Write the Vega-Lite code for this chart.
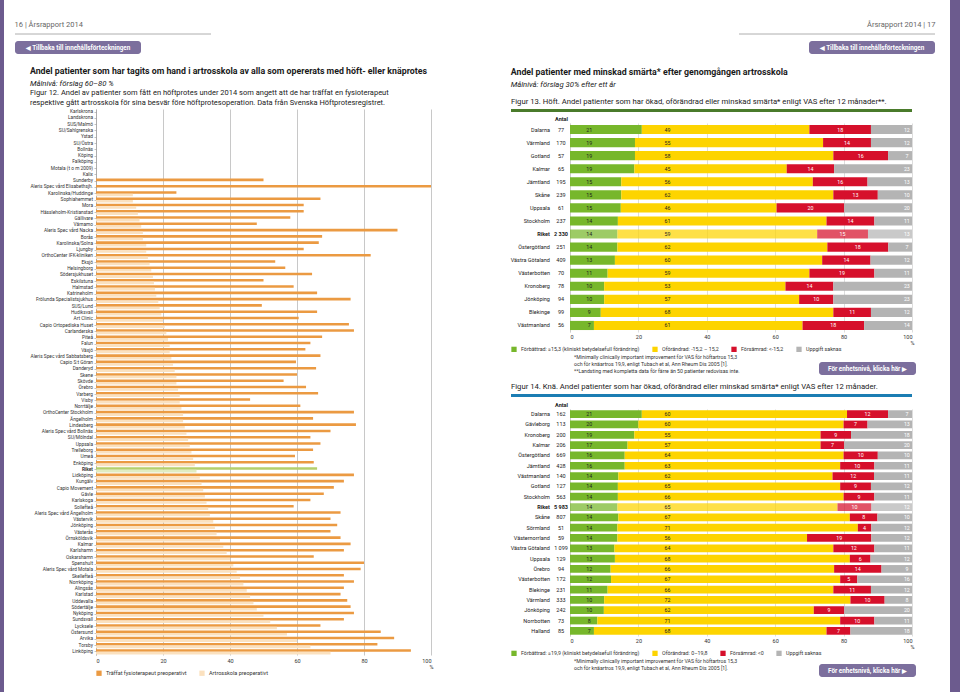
{
"$schema": "https://vega.github.io/schema/vega-lite/v6.json",
"padding": 0,
"background": "white",
"bounds": "full",
"spacing": 0,
"config": {
 "font": "Roboto",
 "view": {"stroke": null},
 "axis": {"labelFont": "Roboto", "titleFont": "Roboto", "labelColor": "#333", "titleColor": "#333", "domainColor": "#999", "tickColor": "#999", "gridColor": "#b8b8b8", "gridWidth": 0.6, "domainWidth": 0.6, "tickWidth": 0.6},
 "legend": {"labelFont": "Roboto", "labelColor": "#333"},
 "title": {"font": "Roboto", "subtitleFont": "Roboto", "color": "#1a1a1a", "subtitleColor": "#1a1a1a"},
 "text": {"font": "Roboto"}
},
"datasets": {
 "left": [
  {"sjukhus": "Karlskrona", "fysio": 0, "skola": 0},
  {"sjukhus": "Landskrona", "fysio": 0, "skola": 0},
  {"sjukhus": "SUS/Malmö", "fysio": 0, "skola": 0},
  {"sjukhus": "SU/Sahlgrenska", "fysio": 0, "skola": 0},
  {"sjukhus": "Ystad", "fysio": 0, "skola": 0},
  {"sjukhus": "SU/Östra", "fysio": 0, "skola": 0},
  {"sjukhus": "Bollnäs", "fysio": 0, "skola": 0},
  {"sjukhus": "Köping", "fysio": 0, "skola": 0},
  {"sjukhus": "Falköping", "fysio": 0, "skola": 0},
  {"sjukhus": "Motala (t o m 2009)", "fysio": 0, "skola": 0},
  {"sjukhus": "Kalix", "fysio": 0, "skola": 0},
  {"sjukhus": "Sunderby", "fysio": 50, "skola": 0},
  {"sjukhus": "Aleris Spec vård Elisabethsjh.", "fysio": 100, "skola": 0},
  {"sjukhus": "Karolinska/Huddinge", "fysio": 24, "skola": 11},
  {"sjukhus": "Sophiahemmet", "fysio": 67, "skola": 11},
  {"sjukhus": "Mora", "fysio": 62, "skola": 12},
  {"sjukhus": "Hässleholm-Kristianstad", "fysio": 62, "skola": 12.5},
  {"sjukhus": "Gällivare", "fysio": 58, "skola": 13},
  {"sjukhus": "Värnamo", "fysio": 48, "skola": 13.5},
  {"sjukhus": "Aleris Spec vård Nacka", "fysio": 90, "skola": 14},
  {"sjukhus": "Borås", "fysio": 67.5, "skola": 14},
  {"sjukhus": "Karolinska/Solna", "fysio": 66.5, "skola": 15},
  {"sjukhus": "Ljungby", "fysio": 62, "skola": 15},
  {"sjukhus": "OrthoCenter IFK-kliniken", "fysio": 82, "skola": 15.5},
  {"sjukhus": "Eksjö", "fysio": 53.5, "skola": 16},
  {"sjukhus": "Helsingborg", "fysio": 56.5, "skola": 16.5},
  {"sjukhus": "Södersjukhuset", "fysio": 64.5, "skola": 17},
  {"sjukhus": "Eskilstuna", "fysio": 50, "skola": 17.3},
  {"sjukhus": "Halmstad", "fysio": 59, "skola": 17.6},
  {"sjukhus": "Katrineholm", "fysio": 66, "skola": 18},
  {"sjukhus": "Frölunda Specialistsjukhus", "fysio": 76, "skola": 18.6},
  {"sjukhus": "SUS/Lund", "fysio": 49.5, "skola": 19},
  {"sjukhus": "Hudiksvall", "fysio": 66, "skola": 19.5},
  {"sjukhus": "Art Clinic", "fysio": 60.5, "skola": 20},
  {"sjukhus": "Capio Ortopediska Huset", "fysio": 75.5, "skola": 20.5},
  {"sjukhus": "Carlanderska", "fysio": 77, "skola": 21},
  {"sjukhus": "Piteå", "fysio": 67.5, "skola": 21.5},
  {"sjukhus": "Falun", "fysio": 64, "skola": 22},
  {"sjukhus": "Växjö", "fysio": 62.5, "skola": 22},
  {"sjukhus": "Aleris Spec vård Sabbatsberg", "fysio": 67, "skola": 22.5},
  {"sjukhus": "Capio S:t Göran", "fysio": 59.7, "skola": 23},
  {"sjukhus": "Danderyd", "fysio": 65.7, "skola": 23.5},
  {"sjukhus": "Skene", "fysio": 60, "skola": 24},
  {"sjukhus": "Skövde", "fysio": 56, "skola": 24},
  {"sjukhus": "Örebro", "fysio": 62.7, "skola": 24.5},
  {"sjukhus": "Varberg", "fysio": 66.3, "skola": 25},
  {"sjukhus": "Visby", "fysio": 46, "skola": 25},
  {"sjukhus": "Norrtälje", "fysio": 61, "skola": 25.5},
  {"sjukhus": "OrthoCenter Stockholm", "fysio": 77, "skola": 26},
  {"sjukhus": "Ängelholm", "fysio": 64.8, "skola": 26},
  {"sjukhus": "Lindesberg", "fysio": 77.6, "skola": 26.5},
  {"sjukhus": "Aleris Spec vård Bollnäs", "fysio": 70, "skola": 27},
  {"sjukhus": "SU/Mölndal", "fysio": 64, "skola": 27.5},
  {"sjukhus": "Uppsala", "fysio": 67, "skola": 28},
  {"sjukhus": "Trelleborg", "fysio": 64.8, "skola": 28.5},
  {"sjukhus": "Umeå", "fysio": 59.4, "skola": 29},
  {"sjukhus": "Enköping", "fysio": 65, "skola": 29.5},
  {"sjukhus": "Riket", "fysio": 66, "skola": 30},
  {"sjukhus": "Lidköping", "fysio": 77, "skola": 31},
  {"sjukhus": "Kungälv", "fysio": 74, "skola": 31.5},
  {"sjukhus": "Capio Movement", "fysio": 71, "skola": 32},
  {"sjukhus": "Gävle", "fysio": 68, "skola": 32.5},
  {"sjukhus": "Karlskoga", "fysio": 64, "skola": 33},
  {"sjukhus": "Sollefteå", "fysio": 59, "skola": 33.5},
  {"sjukhus": "Aleris Spec vård Ängelholm", "fysio": 73, "skola": 34},
  {"sjukhus": "Västervik", "fysio": 70, "skola": 35},
  {"sjukhus": "Jönköping", "fysio": 72, "skola": 35.5},
  {"sjukhus": "Västerås", "fysio": 70, "skola": 36},
  {"sjukhus": "Örnsköldsvik", "fysio": 73, "skola": 37},
  {"sjukhus": "Kalmar", "fysio": 76, "skola": 38},
  {"sjukhus": "Karlshamn", "fysio": 74, "skola": 39},
  {"sjukhus": "Oskarshamn", "fysio": 65, "skola": 40},
  {"sjukhus": "Spenshult", "fysio": 80, "skola": 41},
  {"sjukhus": "Aleris Spec vård Motala", "fysio": 79, "skola": 42},
  {"sjukhus": "Skellefteå", "fysio": 74, "skola": 43},
  {"sjukhus": "Norrköping", "fysio": 77, "skola": 44},
  {"sjukhus": "Alingsås", "fysio": 74, "skola": 45},
  {"sjukhus": "Karlstad", "fysio": 73, "skola": 46},
  {"sjukhus": "Uddevalla", "fysio": 75, "skola": 47},
  {"sjukhus": "Södertälje", "fysio": 76, "skola": 48},
  {"sjukhus": "Nyköping", "fysio": 77, "skola": 50},
  {"sjukhus": "Sundsvall", "fysio": 74, "skola": 52},
  {"sjukhus": "Lycksele", "fysio": 67, "skola": 54},
  {"sjukhus": "Östersund", "fysio": 85, "skola": 57},
  {"sjukhus": "Arvika", "fysio": 89, "skola": 60},
  {"sjukhus": "Torsby", "fysio": 84, "skola": 64},
  {"sjukhus": "Linköping", "fysio": 94, "skola": 70}
 ],
 "hoft": [
  {"region": "Dalarna", "antal": "77", "s1": 21, "s2": 49, "s3": 18, "s4": 12},
  {"region": "Värmland", "antal": "170", "s1": 19, "s2": 55, "s3": 14, "s4": 12},
  {"region": "Gotland", "antal": "57", "s1": 19, "s2": 58, "s3": 16, "s4": 7},
  {"region": "Kalmar", "antal": "65", "s1": 19, "s2": 45, "s3": 14, "s4": 23},
  {"region": "Jämtland", "antal": "195", "s1": 15, "s2": 56, "s3": 16, "s4": 13},
  {"region": "Skåne", "antal": "239", "s1": 15, "s2": 62, "s3": 13, "s4": 10},
  {"region": "Uppsala", "antal": "61", "s1": 15, "s2": 46, "s3": 20, "s4": 20},
  {"region": "Stockholm", "antal": "237", "s1": 14, "s2": 61, "s3": 14, "s4": 11},
  {"region": "Riket", "antal": "2 330", "s1": 14, "s2": 59, "s3": 15, "s4": 13},
  {"region": "Östergötland", "antal": "251", "s1": 14, "s2": 62, "s3": 18, "s4": 7},
  {"region": "Västra Götaland", "antal": "409", "s1": 13, "s2": 60, "s3": 14, "s4": 12},
  {"region": "Västerbotten", "antal": "70", "s1": 11, "s2": 59, "s3": 19, "s4": 11},
  {"region": "Kronoberg", "antal": "78", "s1": 10, "s2": 53, "s3": 14, "s4": 23},
  {"region": "Jönköping", "antal": "94", "s1": 10, "s2": 57, "s3": 10, "s4": 23},
  {"region": "Blekinge", "antal": "99", "s1": 9, "s2": 68, "s3": 11, "s4": 12},
  {"region": "Västmanland", "antal": "56", "s1": 7, "s2": 61, "s3": 18, "s4": 14}
 ],
 "kna": [
  {"region": "Dalarna", "antal": "162", "s1": 21, "s2": 60, "s3": 12, "s4": 7},
  {"region": "Gävleborg", "antal": "113", "s1": 20, "s2": 60, "s3": 7, "s4": 13},
  {"region": "Kronoberg", "antal": "200", "s1": 19, "s2": 55, "s3": 9, "s4": 18},
  {"region": "Kalmar", "antal": "206", "s1": 17, "s2": 57, "s3": 7, "s4": 20},
  {"region": "Östergötland", "antal": "669", "s1": 16, "s2": 64, "s3": 10, "s4": 10},
  {"region": "Jämtland", "antal": "428", "s1": 16, "s2": 63, "s3": 10, "s4": 11},
  {"region": "Västmanland", "antal": "140", "s1": 14, "s2": 62, "s3": 12, "s4": 11},
  {"region": "Gotland", "antal": "127", "s1": 14, "s2": 65, "s3": 9, "s4": 12},
  {"region": "Stockholm", "antal": "563", "s1": 14, "s2": 66, "s3": 9, "s4": 11},
  {"region": "Riket", "antal": "5 983", "s1": 14, "s2": 65, "s3": 10, "s4": 12},
  {"region": "Skåne", "antal": "807", "s1": 14, "s2": 67, "s3": 8, "s4": 10},
  {"region": "Sörmland", "antal": "51", "s1": 14, "s2": 71, "s3": 4, "s4": 12},
  {"region": "Västernorrland", "antal": "59", "s1": 14, "s2": 56, "s3": 19, "s4": 12},
  {"region": "Västra Götaland", "antal": "1 099", "s1": 13, "s2": 64, "s3": 12, "s4": 11},
  {"region": "Uppsala", "antal": "129", "s1": 13, "s2": 68, "s3": 6, "s4": 12},
  {"region": "Örebro", "antal": "94", "s1": 12, "s2": 66, "s3": 14, "s4": 9},
  {"region": "Västerbotten", "antal": "172", "s1": 12, "s2": 67, "s3": 5, "s4": 16},
  {"region": "Blekinge", "antal": "231", "s1": 11, "s2": 66, "s3": 11, "s4": 12},
  {"region": "Värmland", "antal": "333", "s1": 10, "s2": 72, "s3": 10, "s4": 8},
  {"region": "Jönköping", "antal": "242", "s1": 10, "s2": 62, "s3": 9, "s4": 20},
  {"region": "Norrbotten", "antal": "73", "s1": 8, "s2": 71, "s3": 10, "s4": 11},
  {"region": "Halland", "antal": "85", "s1": 7, "s2": 68, "s3": 7, "s4": 18}
 ],
 "fot13": [
  {"i": 1, "t": "*Minimally clinically important improvement för VAS för höftartros 15,3"},
  {"i": 2, "t": "och för knäartros 19,9, enligt Tubach et al, Ann Rheum Dis 2005 [1]."},
  {"i": 3, "t": "**Landsting med kompletta data för färre än 50 patienter redovisas inte."}
 ],
 "fot14": [
  {"i": 1, "t": "*Minimally clinically important improvement för VAS för höftartros 15,3"},
  {"i": 2, "t": "och för knäartros 19,9, enligt Tubach et al, Ann Rheum Dis 2005 [1]."}
 ]
},
"resolve": {"scale": {"color": "independent", "opacity": "independent"}, "legend": {"color": "independent"}},
"hconcat": [
 {"width": 4, "height": 692, "view": {"fill": "#6c5b8e", "stroke": null}, "data": {"values": []}, "mark": "point"},
 {"width": 10, "height": 1, "data": {"values": []}, "mark": "point"},
 {
  "spacing": 0,
  "resolve": {"scale": {"color": "independent", "opacity": "independent"}, "legend": {"color": "independent"}},
  "vconcat": [
   {"width": 1, "height": 21, "data": {"values": []}, "mark": "point"},
   {
    "spacing": 0,
    "hconcat": [
     {
      "spacing": 0,
      "vconcat": [
       {"width": 196, "height": 7, "title": {"text": "16 | Årsrapport 2014", "anchor": "start", "fontSize": 7.5, "fontWeight": "normal", "color": "#666", "offset": 5}, "data": {"values": [{}]}, "mark": {"type": "rule", "color": "#9a9a9a", "strokeWidth": 0.8}, "encoding": {"y": {"value": 0}}},
       {"width": 126, "height": 13, "view": {"fill": "#7c6f9d", "cornerRadius": 3, "stroke": null}, "data": {"values": [{"t": "◀ Tillbaka till innehållsförteckningen"}]}, "mark": {"type": "text", "color": "white", "fontWeight": "bold", "fontSize": 6.3, "align": "center", "baseline": "middle"}, "encoding": {"text": {"field": "t"}}}
      ]
     },
     {"width": 526, "height": 1, "data": {"values": []}, "mark": "point"},
     {
      "spacing": 0,
      "vconcat": [
       {"width": 196, "height": 7, "title": {"text": "Årsrapport 2014 | 17", "anchor": "end", "fontSize": 7.5, "fontWeight": "normal", "color": "#666", "offset": 5}, "data": {"values": [{}]}, "mark": {"type": "rule", "color": "#9a9a9a", "strokeWidth": 0.8}, "encoding": {"y": {"value": 0}}},
       {
        "spacing": 0,
        "hconcat": [
         {"width": 70, "height": 1, "data": {"values": []}, "mark": "point"},
         {"width": 126, "height": 13, "view": {"fill": "#7c6f9d", "cornerRadius": 3, "stroke": null}, "data": {"values": [{"t": "◀ Tillbaka till innehållsförteckningen"}]}, "mark": {"type": "text", "color": "white", "fontWeight": "bold", "fontSize": 6.3, "align": "center", "baseline": "middle"}, "encoding": {"text": {"field": "t"}}}
        ]
       }
      ]
     }
    ]
   },
   {"width": 1, "height": 13, "data": {"values": []}, "mark": "point"},
   {
    "spacing": 0,
    "resolve": {"scale": {"color": "independent", "opacity": "independent"}, "legend": {"color": "independent"}},
    "hconcat": [
     {"width": 14, "height": 1, "data": {"values": []}, "mark": "point"},
     {
      "title": {"text": "Andel patienter som har tagits om hand i artrosskola av alla som opererats med höft- eller knäprotes", "subtitle": "Målnivå: förslag 60–80 %", "anchor": "start", "frame": "bounds", "fontSize": 8.8, "fontWeight": "bold", "subtitleFontSize": 7.7, "subtitleFontStyle": "italic", "subtitlePadding": 4, "offset": 1},
      "resolve": {"scale": {"color": "independent", "opacity": "independent"}, "legend": {"color": "independent"}},
      "vconcat": [
       {
        "width": 335,
        "height": 546,
        "title": {"text": ["Figur 12. Andel av patienter som fått en höftprotes under 2014 som angett att de har träffat en fysioterapeut", "respektive gått artrosskola för sina besvär före höftprotesoperation. Data från Svenska Höftprotesregistret."], "anchor": "start", "frame": "bounds", "fontSize": 7.5, "fontWeight": "normal", "lineHeight": 10.5, "offset": 2},
        "data": {"name": "left"},
        "transform": [{"fold": ["fysio", "skola"], "as": ["serie", "pct"]}],
        "mark": {"type": "bar"},
        "encoding": {
         "y": {"field": "sjukhus", "type": "nominal", "sort": null, "scale": {"paddingInner": 0.18, "paddingOuter": 0.09}, "axis": {"title": null, "labelFontSize": 4.8, "labelPadding": 1.5, "tickSize": 2, "labelColor": "#333", "labelFontWeight": {"condition": {"test": "datum.value === 'Riket'", "value": "bold"}, "value": "normal"}}},
         "yOffset": {"field": "serie", "type": "nominal", "sort": ["fysio", "skola"], "scale": {"paddingInner": 0, "paddingOuter": 0}},
         "x": {"field": "pct", "type": "quantitative", "scale": {"domain": [0, 100]}, "axis": {"values": [0, 20, 40, 60, 80, 100], "title": "%", "titleAnchor": "end", "titleAlign": "center", "titleFontSize": 5.5, "titleFontWeight": "normal", "titlePadding": 1, "labelFontSize": 5.5, "labelPadding": 3, "ticks": false, "domain": false, "grid": true, "gridColor": "#b0b0b0", "gridWidth": 0.7}},
         "color": {
          "condition": [
           {"test": "datum.sjukhus === 'Riket' && datum.serie === 'fysio'", "value": "#b5cf6c"},
           {"test": "datum.sjukhus === 'Riket' && datum.serie === 'skola'", "value": "#e1ecc1"}
          ],
          "field": "serie", "type": "nominal",
          "scale": {"domain": ["fysio", "skola"], "range": ["#eb9a42", "#fbe1bf"]},
          "legend": {"orient": "bottom", "direction": "horizontal", "title": null, "symbolType": "square", "symbolSize": 28, "symbolStrokeWidth": 0, "labelFontSize": 5.5, "columnPadding": 12, "offset": 0, "labelExpr": "datum.value === 'fysio' ? 'Träffat fysioterapeut preoperativt' : 'Artrosskola preoperativt'"}
         }
        }
       }
      ]
     },
     {"width": 76, "height": 1, "data": {"values": []}, "mark": "point"},
     {
      "title": {"text": "Andel patienter med minskad smärta* efter genomgången artrosskola", "subtitle": "Målnivå: förslag 30% efter ett år", "anchor": "start", "frame": "bounds", "fontSize": 8.8, "fontWeight": "bold", "subtitleFontSize": 7.7, "subtitleFontStyle": "italic", "subtitlePadding": 4, "offset": 10},
      "spacing": 0,
      "resolve": {"scale": {"color": "independent", "opacity": "independent"}, "legend": {"color": "independent"}},
      "vconcat": [
       {"width": 401, "height": 3, "view": {"fill": "#4a7b2b", "stroke": null}, "title": {"text": "Figur 13. Höft. Andel patienter som har ökad, oförändrad eller minskad smärta* enligt VAS efter 12 månader**.", "anchor": "start", "fontSize": 7.7, "fontWeight": "normal", "offset": 3}, "data": {"values": []}, "mark": "point"},
       {"width": 1, "height": 4, "data": {"values": []}, "mark": "point"},
       {
        "spacing": 0,
        "hconcat": [
         {
          "width": 41, "height": 209,
          "data": {"name": "hoft"},
          "encoding": {
           "y": {"field": "region", "type": "nominal", "sort": null, "scale": {"paddingInner": 0.3, "paddingOuter": 0.15}, "axis": null},
           "x": {"datum": 0.95, "type": "quantitative", "scale": {"domain": [0, 1]}, "axis": null}
          },
          "layer": [
           {"mark": {"type": "text", "align": "right", "fontSize": 5.5, "color": "#222"}, "encoding": {"text": {"condition": {"test": "datum.region === 'Riket'", "value": ""}, "field": "region"}}},
           {"transform": [{"filter": "datum.region === 'Riket'"}], "mark": {"type": "text", "align": "right", "fontSize": 5.5, "fontWeight": "bold", "color": "#222"}, "encoding": {"text": {"field": "region"}}}
          ]
         },
         {
          "width": 18, "height": 209,
          "data": {"name": "hoft"},
          "encoding": {
           "y": {"field": "region", "type": "nominal", "sort": null, "scale": {"paddingInner": 0.3, "paddingOuter": 0.15}, "axis": null},
           "x": {"datum": "Antal", "type": "nominal", "axis": {"orient": "top", "title": null, "ticks": false, "domain": false, "labelFontSize": 5.5, "labelFontWeight": "bold", "labelPadding": 2, "labelAngle": 0, "labelColor": "#222"}}
          },
          "layer": [
           {"mark": {"type": "text", "fontSize": 5.5, "color": "#222"}, "encoding": {"text": {"condition": {"test": "datum.region === 'Riket'", "value": ""}, "field": "antal"}}},
           {"transform": [{"filter": "datum.region === 'Riket'"}], "mark": {"type": "text", "fontSize": 5.5, "fontWeight": "bold", "color": "#222"}, "encoding": {"text": {"field": "antal"}}}
          ]
         },
         {
          "width": 342, "height": 209,
          "data": {"name": "hoft"},
          "transform": [{"fold": ["s1", "s2", "s3", "s4"], "as": ["kat", "v"]}],
          "encoding": {"y": {"field": "region", "type": "nominal", "sort": null, "scale": {"paddingInner": 0.3, "paddingOuter": 0.15}, "axis": {"labels": false, "ticks": false, "title": null, "domainColor": "#c8c8c8", "domainWidth": 0.8}}},
          "layer": [
           {"mark": {"type": "bar"},
            "encoding": {
             "x": {"field": "v", "type": "quantitative", "stack": "normalize", "scale": {"domain": [0, 1]}, "axis": {"values": [0, 0.2, 0.4, 0.6, 0.8, 1], "labelExpr": "format(datum.value*100, 'd')", "title": "%", "titleAnchor": "end", "titleAlign": "center", "titleFontSize": 5.5, "titleFontWeight": "normal", "titlePadding": 1, "labelFontSize": 5.5, "labelPadding": 2, "ticks": false, "domain": false, "grid": true, "gridColor": "#cfcfcf", "gridWidth": 0.7}},
             "color": {"field": "kat", "type": "nominal", "scale": {"domain": ["s1", "s2", "s3", "s4"], "range": ["#77b72b", "#fdd400", "#d6102b", "#b4b4b4"]}, "legend": {"orient": "bottom", "direction": "horizontal", "title": null, "symbolType": "square", "symbolSize": 28, "symbolStrokeWidth": 0, "labelFontSize": 5.3, "columnPadding": 12, "offset": 0, "labelExpr": "datum.value === 's1' ? 'Förbättrad: ≥15,3 (kliniskt betydelsefull förändring)' : datum.value === 's2' ? 'Oförändrad: -15,2 – 15,2' : datum.value === 's3' ? 'Försämrad: <-15,2' : 'Uppgift saknas'"}},
             "opacity": {"condition": {"test": "datum.region === 'Riket'", "value": 0.72}, "value": 1}
            }},
           {"transform": [{"filter": "datum.kat === 's1'"}], "mark": {"type": "text", "fontSize": 5.3, "color": "#1f1f1f"}, "encoding": {"x": {"datum": 0.056}, "text": {"field": "v"}}},
           {"transform": [{"filter": "datum.kat === 's2'"}], "mark": {"type": "text", "fontSize": 5.3, "color": "#1f1f1f"}, "encoding": {"x": {"datum": 0.285}, "text": {"field": "v"}}},
           {"transform": [{"filter": "datum.kat === 's4'"}], "mark": {"type": "text", "fontSize": 5.3, "color": "white"}, "encoding": {"x": {"datum": 0.985}, "text": {"field": "v"}}},
           {"transform": [
             {"stack": "v", "groupby": ["region"], "sort": [{"field": "kat", "order": "ascending"}], "offset": "normalize", "as": ["v0", "v1"]},
             {"filter": "datum.kat === 's3'"},
             {"fold": ["v0", "v1"], "as": ["ende", "pos"]},
             {"aggregate": [{"op": "mean", "field": "pos", "as": "mid"}], "groupby": ["region", "v"]}
            ],
            "mark": {"type": "text", "fontSize": 5.3, "color": "white"},
            "encoding": {"x": {"field": "mid", "type": "quantitative", "title": "%"}, "text": {"field": "v"}}}
          ]
         }
        ]
       },
       {
        "spacing": 0,
        "hconcat": [
         {"width": 63, "height": 1, "data": {"values": []}, "mark": "point"},
         {"width": 245, "height": 21, "data": {"name": "fot13"}, "mark": {"type": "text", "align": "left", "baseline": "middle", "fontSize": 5.2, "color": "#333"}, "encoding": {"y": {"field": "i", "type": "ordinal", "axis": null}, "x": {"datum": 0, "type": "quantitative", "scale": {"domain": [0, 1]}, "axis": null}, "text": {"field": "t"}}},
         {
          "spacing": 0,
          "vconcat": [
           {"width": 1, "height": 9, "data": {"values": []}, "mark": "point"},
           {"width": 97, "height": 13, "view": {"fill": "#7c6f9d", "cornerRadius": 3, "stroke": null}, "data": {"values": [{"t": "För enhetsnivå, klicka här ▶"}]}, "mark": {"type": "text", "color": "white", "fontWeight": "bold", "fontSize": 6.3, "align": "center", "baseline": "middle"}, "encoding": {"text": {"field": "t"}}}
          ]
         }
        ]
       },
       {"width": 1, "height": 8, "data": {"values": []}, "mark": "point"},
       {"width": 401, "height": 3, "view": {"fill": "#1b7db3", "stroke": null}, "title": {"text": "Figur 14. Knä. Andel patienter som har ökad, oförändrad eller minskad smärta* enligt VAS efter 12 månader.", "anchor": "start", "fontSize": 7.7, "fontWeight": "normal", "offset": 3}, "data": {"values": []}, "mark": "point"},
       {"width": 1, "height": 5, "data": {"values": []}, "mark": "point"},
       {
        "spacing": 0,
        "hconcat": [
         {
          "width": 41, "height": 227,
          "data": {"name": "kna"},
          "encoding": {
           "y": {"field": "region", "type": "nominal", "sort": null, "scale": {"paddingInner": 0.25, "paddingOuter": 0.125}, "axis": null},
           "x": {"datum": 0.95, "type": "quantitative", "scale": {"domain": [0, 1]}, "axis": null}
          },
          "layer": [
           {"mark": {"type": "text", "align": "right", "fontSize": 5.5, "color": "#222"}, "encoding": {"text": {"condition": {"test": "datum.region === 'Riket'", "value": ""}, "field": "region"}}},
           {"transform": [{"filter": "datum.region === 'Riket'"}], "mark": {"type": "text", "align": "right", "fontSize": 5.5, "fontWeight": "bold", "color": "#222"}, "encoding": {"text": {"field": "region"}}}
          ]
         },
         {
          "width": 18, "height": 227,
          "data": {"name": "kna"},
          "encoding": {
           "y": {"field": "region", "type": "nominal", "sort": null, "scale": {"paddingInner": 0.25, "paddingOuter": 0.125}, "axis": null},
           "x": {"datum": "Antal", "type": "nominal", "axis": {"orient": "top", "title": null, "ticks": false, "domain": false, "labelFontSize": 5.5, "labelFontWeight": "bold", "labelPadding": 2, "labelAngle": 0, "labelColor": "#222"}}
          },
          "layer": [
           {"mark": {"type": "text", "fontSize": 5.5, "color": "#222"}, "encoding": {"text": {"condition": {"test": "datum.region === 'Riket'", "value": ""}, "field": "antal"}}},
           {"transform": [{"filter": "datum.region === 'Riket'"}], "mark": {"type": "text", "fontSize": 5.5, "fontWeight": "bold", "color": "#222"}, "encoding": {"text": {"field": "antal"}}}
          ]
         },
         {
          "width": 342, "height": 227,
          "data": {"name": "kna"},
          "transform": [{"fold": ["s1", "s2", "s3", "s4"], "as": ["kat", "v"]}],
          "encoding": {"y": {"field": "region", "type": "nominal", "sort": null, "scale": {"paddingInner": 0.25, "paddingOuter": 0.125}, "axis": {"labels": false, "ticks": false, "title": null, "domainColor": "#c8c8c8", "domainWidth": 0.8}}},
          "layer": [
           {"mark": {"type": "bar"},
            "encoding": {
             "x": {"field": "v", "type": "quantitative", "stack": "normalize", "scale": {"domain": [0, 1]}, "axis": {"values": [0, 0.2, 0.4, 0.6, 0.8, 1], "labelExpr": "format(datum.value*100, 'd')", "title": "%", "titleAnchor": "end", "titleAlign": "center", "titleFontSize": 5.5, "titleFontWeight": "normal", "titlePadding": 1, "labelFontSize": 5.5, "labelPadding": 2, "ticks": false, "domain": false, "grid": true, "gridColor": "#cfcfcf", "gridWidth": 0.7}},
             "color": {"field": "kat", "type": "nominal", "scale": {"domain": ["s1", "s2", "s3", "s4"], "range": ["#77b72b", "#fdd400", "#d6102b", "#b4b4b4"]}, "legend": {"orient": "bottom", "direction": "horizontal", "title": null, "symbolType": "square", "symbolSize": 28, "symbolStrokeWidth": 0, "labelFontSize": 5.3, "columnPadding": 12, "offset": 0, "labelExpr": "datum.value === 's1' ? 'Förbättrad: ≥19,9 (kliniskt betydelsefull förändring)' : datum.value === 's2' ? 'Oförändrad: 0–19,8' : datum.value === 's3' ? 'Försämrad: <0' : 'Uppgift saknas'"}},
             "opacity": {"condition": {"test": "datum.region === 'Riket'", "value": 0.72}, "value": 1}
            }},
           {"transform": [{"filter": "datum.kat === 's1'"}], "mark": {"type": "text", "fontSize": 5.3, "color": "#1f1f1f"}, "encoding": {"x": {"datum": 0.056}, "text": {"field": "v"}}},
           {"transform": [{"filter": "datum.kat === 's2'"}], "mark": {"type": "text", "fontSize": 5.3, "color": "#1f1f1f"}, "encoding": {"x": {"datum": 0.285}, "text": {"field": "v"}}},
           {"transform": [{"filter": "datum.kat === 's4'"}], "mark": {"type": "text", "fontSize": 5.3, "color": "white"}, "encoding": {"x": {"datum": 0.985}, "text": {"field": "v"}}},
           {"transform": [
             {"stack": "v", "groupby": ["region"], "sort": [{"field": "kat", "order": "ascending"}], "offset": "normalize", "as": ["v0", "v1"]},
             {"filter": "datum.kat === 's3'"},
             {"fold": ["v0", "v1"], "as": ["ende", "pos"]},
             {"aggregate": [{"op": "mean", "field": "pos", "as": "mid"}], "groupby": ["region", "v"]}
            ],
            "mark": {"type": "text", "fontSize": 5.3, "color": "white"},
            "encoding": {"x": {"field": "mid", "type": "quantitative", "title": "%"}, "text": {"field": "v"}}}
          ]
         }
        ]
       },
       {
        "spacing": 0,
        "hconcat": [
         {"width": 63, "height": 1, "data": {"values": []}, "mark": "point"},
         {"width": 245, "height": 14, "data": {"name": "fot14"}, "mark": {"type": "text", "align": "left", "baseline": "middle", "fontSize": 5.2, "color": "#333"}, "encoding": {"y": {"field": "i", "type": "ordinal", "axis": null}, "x": {"datum": 0, "type": "quantitative", "scale": {"domain": [0, 1]}, "axis": null}, "text": {"field": "t"}}},
         {
          "spacing": 0,
          "vconcat": [
           {"width": 1, "height": 7, "data": {"values": []}, "mark": "point"},
           {"width": 97, "height": 13, "view": {"fill": "#7c6f9d", "cornerRadius": 3, "stroke": null}, "data": {"values": [{"t": "För enhetsnivå, klicka här ▶"}]}, "mark": {"type": "text", "color": "white", "fontWeight": "bold", "fontSize": 6.3, "align": "center", "baseline": "middle"}, "encoding": {"text": {"field": "t"}}}
          ]
         }
        ]
       }
      ]
     }
    ]
   }
  ]
 },
 {"width": 14, "height": 1, "data": {"values": []}, "mark": "point"},
 {"width": 10, "height": 692, "view": {"fill": "#6c5b8e", "stroke": null}, "data": {"values": []}, "mark": "point"}
]
}
